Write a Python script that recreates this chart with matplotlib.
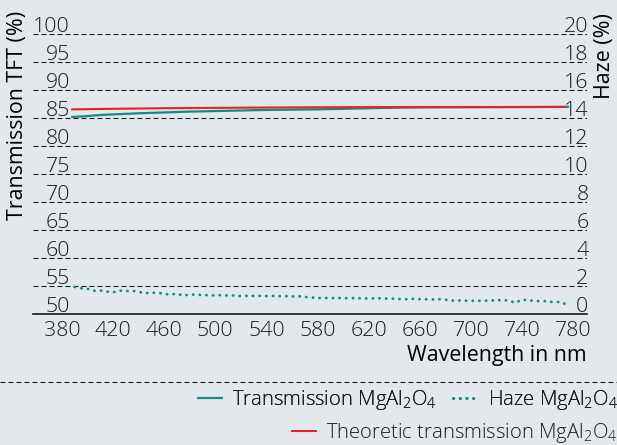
import matplotlib
matplotlib.use("Agg")
import matplotlib.pyplot as plt
from matplotlib.lines import Line2D
from matplotlib.transforms import ScaledTranslation

# ======================
# Transmission / Haze MgAl2O4
# ======================

wl_trans = [388, 400, 410, 420, 440, 460, 480, 500, 520, 540, 560, 580, 600,
            620, 640, 660, 680, 700, 720, 740, 760, 776]
trans = [85.2, 85.35, 85.55, 85.65, 85.85, 86.0, 86.15, 86.25, 86.35, 86.45,
         86.5, 86.55, 86.65, 86.75, 86.85, 86.9, 86.92, 86.94, 86.95, 86.97,
         86.98, 87.0]

wl_theo = [388, 420, 460, 500, 540, 580, 620, 660, 700, 740, 773]
theo = [86.55, 86.65, 86.75, 86.82, 86.88, 86.92, 86.95, 86.96, 86.97, 86.97, 86.98]

wl_haze = list(range(390, 780, 5))
haze = [1.93, 1.84, 1.80, 1.66, 1.68, 1.60, 1.55, 1.67, 1.64, 1.66,
        1.58, 1.49, 1.52, 1.52, 1.44, 1.38, 1.46, 1.31, 1.40, 1.37,
        1.36, 1.34, 1.33, 1.35, 1.32, 1.33, 1.28, 1.30, 1.29, 1.30,
        1.28, 1.29, 1.27, 1.28, 1.25, 1.27, 1.22, 1.18, 1.14, 1.15,
        1.13, 1.15, 1.14, 1.13, 1.14, 1.12, 1.10, 1.13, 1.12, 1.10,
        1.09, 1.07, 1.06, 1.08, 1.06, 1.05, 1.04, 1.06, 1.02, 0.96,
        0.97, 0.95, 0.94, 0.95, 0.93, 0.98, 0.97, 1.01, 0.95, 0.80,
        1.03, 0.98, 0.95, 0.90, 0.92, 0.84, 0.87, 0.68]

x_ticks = [380, 420, 460, 500, 540, 580, 620, 660, 700, 740, 780]
y_ticks = [50, 55, 60, 65, 70, 75, 80, 85, 90, 95, 100]
haze_ticks = [0, 2, 4, 6, 8, 10, 12, 14, 16, 18, 20]

bg = "#e2e8eb"
teal = "#138a82"
red = "#e8202a"
fs = 15.4

plt.rcParams["font.family"] = ["Open Sans", "DejaVu Sans"]
plt.rcParams["font.weight"] = "light"
plt.rcParams["mathtext.default"] = "regular"
plt.rcParams["text.color"] = "#1a1a1a"

fig = plt.figure(figsize=(6.17, 4.45), dpi=100, facecolor=bg)
ax = fig.add_axes([33 / 617, 1 - 314 / 445, 554 / 617, 280.5 / 445])
ax.set_facecolor("none")
ax.set_xlim(357.3, 791)
ax.set_ylim(50, 100.1)

ax.plot(wl_trans, trans, color=teal, lw=1.6, zorder=3)
ax.plot(wl_theo, theo, color=red, lw=1.5, zorder=4)

ax2 = ax.twinx()
ax2.set_ylim(0, (100.1 - 50) * 0.4)
ax2.plot(wl_haze, haze, color=teal, lw=2.0, ls=(0, (0.1, 2.3)),
         dash_capstyle="round", zorder=3)

for a in (ax, ax2):
    for s in ("top", "left", "right"):
        a.spines[s].set_visible(False)
ax2.spines["bottom"].set_visible(False)
ax.spines["bottom"].set_linewidth(1.2)
ax.spines["bottom"].set_color("#1a1a1a")

ax.set_xticks(x_ticks)
ax.set_yticks(y_ticks)
ax2.set_yticks(haze_ticks)
ax.yaxis.grid(True, color="#1a1a1a", lw=0.8, ls=(0, (4.5, 2.7)))

ax.tick_params(axis="x", length=0, pad=5, labelsize=fs, labelcolor="#1a1a1a")
ax.tick_params(axis="y", length=0, pad=-26.6, labelsize=fs, labelcolor="#1a1a1a")
ax2.tick_params(axis="y", length=0, pad=1, labelsize=fs, labelcolor="#1a1a1a")

shift = ScaledTranslation(0, 0.10, fig.dpi_scale_trans)
for lab in ax.get_yticklabels():
    lab.set_transform(lab.get_transform() + shift)
for lab in ax2.get_yticklabels():
    lab.set_transform(lab.get_transform() + shift)
    lab.set_horizontalalignment("right")

ax.set_xlabel("Wavelength in nm", fontsize=fs, ha="right", va="center")
ax.xaxis.set_label_coords(1.0, -41 / 280.5)
ax.set_ylabel("Transmission TFT (%)", fontsize=fs, va="center")
ax.yaxis.set_label_coords(-15 / 554, (314 - 115) / 280.5)
ax2.set_ylabel("Haze (%)", fontsize=fs, rotation=90, va="center")
ax2.yaxis.set_label_coords(1 + 18 / 554, (314 - 56) / 280.5)

# separator above legend
fig.add_artist(Line2D([0, 1], [1 - 382 / 445] * 2, transform=fig.transFigure,
                      color="#1a1a1a", lw=0.8, ls=(0, (4.5, 2.7))))

h_trans = Line2D([], [], color=teal, lw=1.5)
h_haze = Line2D([], [], color=teal, lw=2.0, ls=(0, (0.1, 2.3)), dash_capstyle="round")
h_theo = Line2D([], [], color=red, lw=1.5)

leg_kw = dict(frameon=False, fontsize=14.6, handlelength=1.2, handletextpad=0.5,
              columnspacing=0.8, borderpad=0, borderaxespad=0, loc="center right")
leg1 = fig.legend([h_trans, h_haze],
                  ["Transmission MgAl$_2$O$_4$", "Haze MgAl$_2$O$_4$"],
                  ncol=2, bbox_to_anchor=(618 / 617, 1 - 400 / 445), **leg_kw)
fig.legend([h_theo], ["Theoretic transmission MgAl$_2$O$_4$"],
           bbox_to_anchor=(618 / 617, 1 - 433 / 445), **leg_kw)
fig.add_artist(leg1)

fig.savefig("out.png", dpi=100, facecolor=bg)
